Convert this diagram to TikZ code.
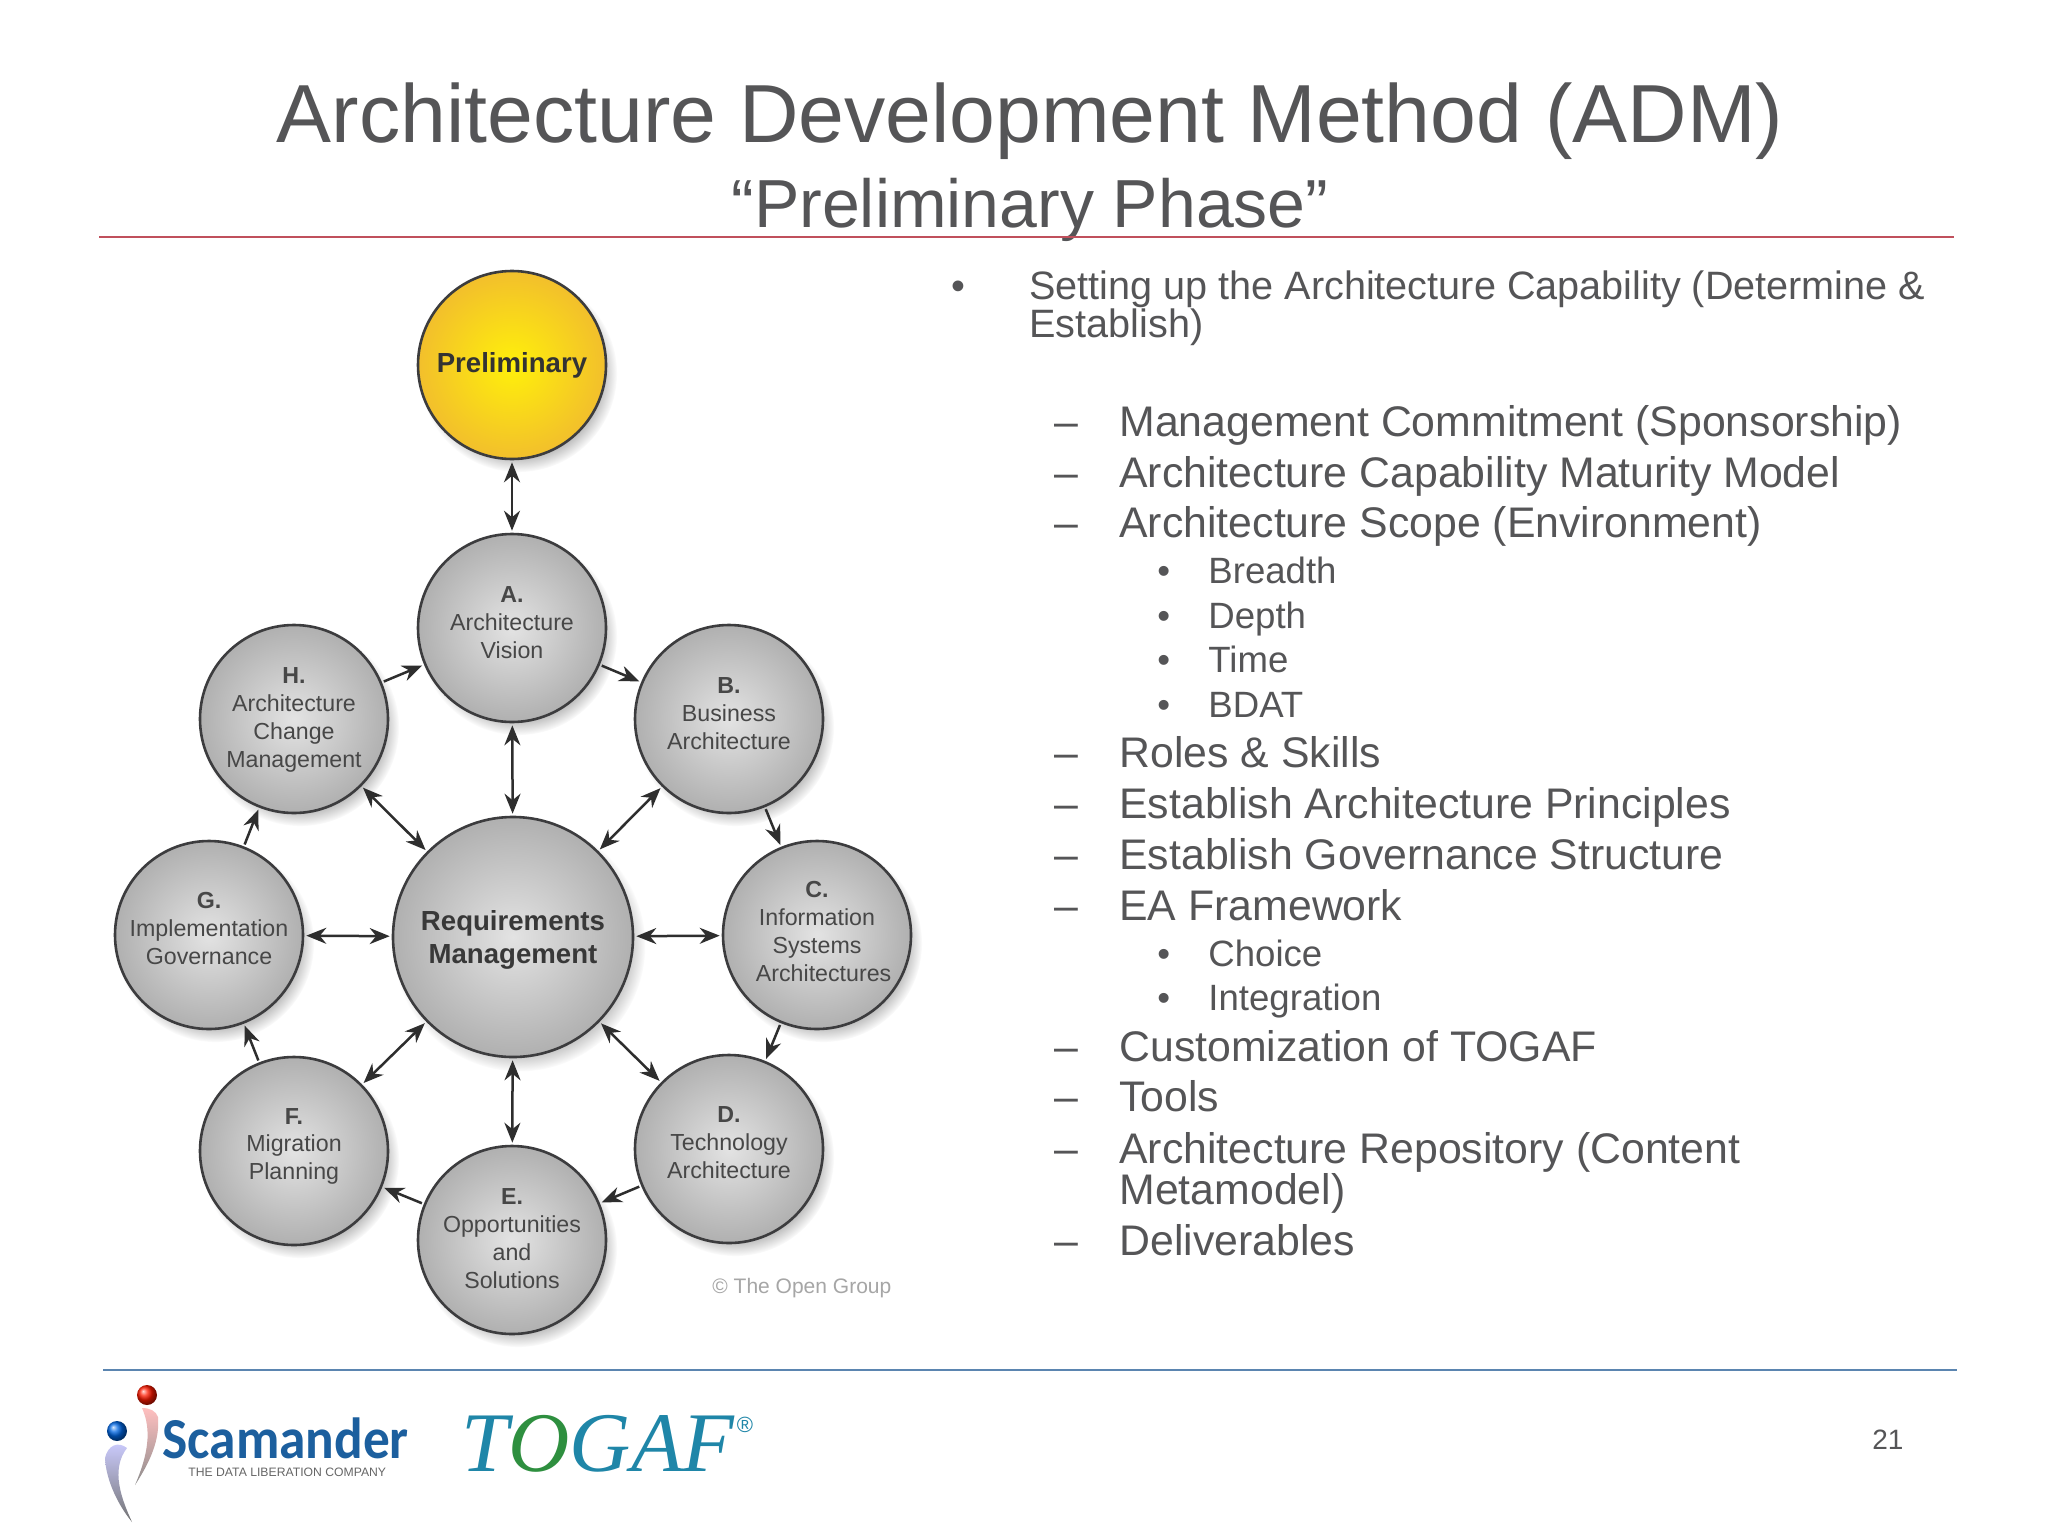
\documentclass[tikz,border=0pt]{standalone}
\usepackage{fontspec}
\setmainfont{Liberation Sans}
\newfontfamily\togaffont{Liberation Serif}
\newfontfamily\scamfont[FakeStretch=0.92]{Carlito}
\usetikzlibrary{arrows.meta,shadows,fadings}
\definecolor{textgray}{HTML}{555557}
\definecolor{edgegray}{HTML}{3C3C3E}
\definecolor{ruled}{HTML}{C0505C}
\definecolor{ruleb}{HTML}{5B85B0}
\definecolor{togafblue}{HTML}{1F86A8}
\definecolor{togafgreen}{HTML}{2E8F3F}
\definecolor{scamblue}{HTML}{1C5F9E}
\definecolor{prelimin}{HTML}{FFF00A}
\definecolor{prelimout}{HTML}{F2BF2C}
\tikzset{
  phase/.style={circle,draw=edgegray,line width=1.3pt,inner sep=0pt,minimum size=94pt,
    align=center,text=black!72,inner color=black!11,outer color=black!31,
    font=\fontsize{11.6}{14}\selectfont,
    circular drop shadow={shadow xshift=3pt,shadow yshift=-4pt,shadow scale=1.05,opacity=.5}},
  core/.style={phase,minimum size=120pt,text=black!78,font=\fontsize{13.8}{16.5}\selectfont\bfseries},
  prelim/.style={phase,inner color=prelimin,outer color=prelimout,
    text=black!80,font=\fontsize{13.8}{17}\selectfont\bfseries},
  link/.style={draw=black!82,line width=1.25pt,shorten >=1pt,shorten <=1pt},
  both/.style={link,{Stealth[length=10pt,width=8pt]}-{Stealth[length=10pt,width=8pt]}},
  next/.style={link,-{Stealth[length=10pt,width=8pt]}},
  item/.style={anchor=base west,inner sep=0pt,text=textgray},
  lone/.style={item,font=\fontsize{19.8}{19.8}\selectfont},
  ltwo/.style={item,font=\fontsize{21.4}{21.4}\selectfont},
  lthree/.style={item,font=\fontsize{18.3}{18.3}\selectfont},
  head/.style={anchor=base,inner sep=0pt,text=textgray},
}
\begin{document}
\begin{tikzpicture}[x=0.5pt,y=-0.5pt]
  \useasboundingbox (0,0) rectangle (2048,1536);
  \fill[white] (0,0) rectangle (2048,1536);
  % heading
  \node[head,font=\fontsize{41.2}{41.2}\selectfont] (title) at (1030,142) {Architecture Development Method (ADM)};
  \node[head,font=\fontsize{34}{34}\selectfont] (subtitle) at (1030,227) {“Preliminary Phase”};
  \draw[ruled,line width=1.3pt] (99,237) -- (1954,237);
  \draw[ruleb,line width=1.3pt] (103,1370) -- (1957,1370);
  % circles
  \node[prelim,text depth=2.3pt] (pre) at (512,365) {Preliminary};
  \node[phase,text depth=5.2pt] (a) at (512,628) {\textbf{A.}\\Architecture\\Vision};
  \node[phase,text depth=5.2pt] (b) at (729,719) {\textbf{B.}\\Business\\Architecture};
  \node[phase,text depth=3.3pt] (c) at (817,935) {\textbf{C.}\\Information\\Systems\\\hspace*{6.6pt}Architectures};
  \node[phase,text depth=6.6pt] (d) at (729,1149) {\textbf{D.}\\Technology\\Architecture};
  \node[phase,text depth=2pt] (e) at (512,1240) {\textbf{E.}\\Opportunities\\and\\Solutions};
  \node[phase,text depth=7pt] (f) at (294,1151) {\textbf{F.}\\Migration\\Planning};
  \node[phase,text depth=6.6pt] (g) at (209,935) {\textbf{G.}\\Implementation\\Governance};
  \node[phase,text depth=1.1pt] (h) at (294,719) {\textbf{H.}\\Architecture\\Change\\Management};
  \node[core,text depth=-2.3pt] (req) at (513,937) {Requirements\\Management};
  \node[anchor=base west,inner sep=0pt,text=black!35,font=\fontsize{10.5}{10.5}\selectfont] (copy) at (712,1293) {© The Open Group};
  % arrows
  \draw[both] (pre) -- (a);
  \draw[both] (a) -- (req);
  \draw[both] (b) -- (req);
  \draw[both] (c) -- (req);
  \draw[both] (d) -- (req);
  \draw[both] (e) -- (req);
  \draw[both] (f) -- (req);
  \draw[both] (g) -- (req);
  \draw[both] (h) -- (req);
  \draw[next] (a) -- (b);
  \draw[next] (b) -- (c);
  \draw[next] (c) -- (d);
  \draw[next] (d) -- (e);
  \draw[next] (e) -- (f);
  \draw[next] (f) -- (g);
  \draw[next] (g) -- (h);
  \draw[next] (h) -- (a);
  % first level
  \node[lone] (m1) at (951,299) {•};
  \node[lone] (t1) at (1029,299) {Setting up the Architecture Capability (Determine \&};
  \node[lone] (t1b) at (1029,337) {Establish)};
  % second level
  \node[ltwo] (d1) at (1054,436) {–};
  \node[ltwo] (s1) at (1119,436) {Management Commitment (Sponsorship)};
  \node[ltwo] (d2) at (1054,487) {–};
  \node[ltwo] (s2) at (1119,487) {Architecture Capability Maturity Model};
  \node[ltwo] (d3) at (1054,537) {–};
  \node[ltwo] (s3) at (1119,537) {Architecture Scope (Environment)};
  \node[lthree] (b1) at (1157,583) {•};
  \node[lthree] (r1) at (1208,583) {Breadth};
  \node[lthree] (b2) at (1157,628) {•};
  \node[lthree] (r2) at (1208,628) {Depth};
  \node[lthree] (b3) at (1157,672) {•};
  \node[lthree] (r3) at (1208,672) {Time};
  \node[lthree] (b4) at (1157,717) {•};
  \node[lthree] (r4) at (1208,717) {BDAT};
  \node[ltwo] (d4) at (1054,767) {–};
  \node[ltwo] (s4) at (1119,767) {Roles \& Skills};
  \node[ltwo] (d5) at (1054,818) {–};
  \node[ltwo] (s5) at (1119,818) {Establish Architecture Principles};
  \node[ltwo] (d6) at (1054,869) {–};
  \node[ltwo] (s6) at (1119,869) {Establish Governance Structure};
  \node[ltwo] (d7) at (1054,920) {–};
  \node[ltwo] (s7) at (1119,920) {EA Framework};
  \node[lthree] (b5) at (1157,966) {•};
  \node[lthree] (r5) at (1208,966) {Choice};
  \node[lthree] (b6) at (1157,1010) {•};
  \node[lthree] (r6) at (1208,1010) {Integration};
  \node[ltwo] (d8) at (1054,1061) {–};
  \node[ltwo] (s8) at (1119,1061) {Customization of TOGAF};
  \node[ltwo] (d9) at (1054,1111) {–};
  \node[ltwo] (s9) at (1119,1111) {Tools};
  \node[ltwo] (d10) at (1054,1163) {–};
  \node[ltwo] (s10) at (1119,1163) {Architecture Repository (Content};
  \node[ltwo] (s10b) at (1119,1204) {Metamodel)};
  \node[ltwo] (d11) at (1054,1255) {–};
  \node[ltwo] (s11) at (1119,1255) {Deliverables};
  % footer
  \node[item,font=\fontsize{14}{14}\selectfont] (page) at (1872,1449) {21};
  \shade[ball color=red!80!orange] (147,1395) circle (10);
  \shade[ball color=blue!55!cyan!90!black] (117,1431) circle (10);
  \shade[top color=red!25!white,middle color=red!70!black!85,bottom color=black!45]
    (142,1408) .. controls (150,1408) and (156,1411) .. (158,1417)
    .. controls (160,1440) and (150,1462) .. (135,1485)
    .. controls (148,1455) and (152,1430) .. (142,1408) -- cycle;
  \shade[top color=blue!20!white,middle color=blue!45!cyan!85!black,bottom color=black!55]
    (127,1448) .. controls (118,1441) and (108,1445) .. (105,1458)
    .. controls (106,1480) and (118,1505) .. (132,1522)
    .. controls (122,1500) and (110,1470) .. (127,1448) -- cycle;
  \node[anchor=base west,inner sep=0pt,text=scamblue,font=\scamfont\bfseries\fontsize{29}{29}\selectfont] (scam) at (162,1458) {Scamander};
  \node[anchor=base west,inner sep=0pt,text=black!60,font=\fontsize{6.1}{6.1}\selectfont] (scamsub) at (188,1476) {THE DATA LIBERATION COMPANY};
  \node[anchor=base west,inner sep=0pt,text=togafblue,font=\togaffont\itshape\fontsize{42.4}{42.4}\selectfont] (togaf) at (461,1471) {T\textcolor{togafgreen}{O}GAF};
  \node[anchor=center,inner sep=0pt,text=togafblue,font=\fontsize{11}{11}\selectfont] (reg) at (745,1425) {®};
\end{tikzpicture}
\end{document}
